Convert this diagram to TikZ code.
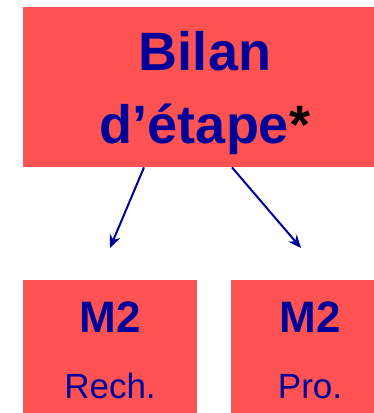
\documentclass[tikz,border=0pt]{standalone}
\usepackage{xcolor}
\usepackage{fontspec}
\setmainfont{Liberation Sans}
\usepackage{tikz}
\usetikzlibrary{arrows.meta}
\definecolor{boxred}{RGB}{255,82,82}
\definecolor{textblue}{RGB}{0,0,153}

\begin{document}
\begin{tikzpicture}[x=1pt,y=1pt,
			redbox/.style={fill=boxred,inner sep=0pt,anchor=north west},
			bigtext/.style={text=textblue,inner sep=0pt,anchor=base,font=\fontsize{54}{60}\selectfont\bfseries},
			mtext/.style={text=textblue,inner sep=0pt,anchor=base,font=\fontsize{44}{50}\selectfont\bfseries},
			subtext/.style={text=textblue,inner sep=0pt,anchor=base,font=\fontsize{35}{40}\selectfont},
			arrow/.style={draw=textblue,line width=2pt,-{Stealth[length=13pt,width=11pt]}}]
			\useasboundingbox (0,0) rectangle (374,-413);
			\clip (0,0) rectangle (374,-413);
			% boxes
			\node[redbox,minimum width=364pt,minimum height=160pt] (bilan) at (23,-7) {};
			\node[redbox,minimum width=174pt,minimum height=140pt] (rech) at (23,-280) {};
			\node[redbox,minimum width=158pt,minimum height=140pt] (pro) at (231,-280) {};
			% texts
			\node[bigtext] (bilanA) at (205,-70) {Bilan};
			\node[bigtext] (bilanB) at (205,-143) {d’étape{\color{black}*}};
			\node[mtext] (rechA) at (110,-332) {M2};
			\node[subtext] (rechB) at (110,-398) {Rech.};
			\node[mtext] (proA) at (310,-332) {M2};
			\node[subtext] (proB) at (310,-398) {Pro.};
			% arrows
			\coordinate (tipA) at (110,-248);
			\coordinate (tipB) at (301,-248);
			\draw[arrow] ([xshift=121pt]bilan.south west) -- (tipA);
			\draw[arrow] ([xshift=209pt]bilan.south west) -- (tipB);
		\end{tikzpicture}
\end{document}
